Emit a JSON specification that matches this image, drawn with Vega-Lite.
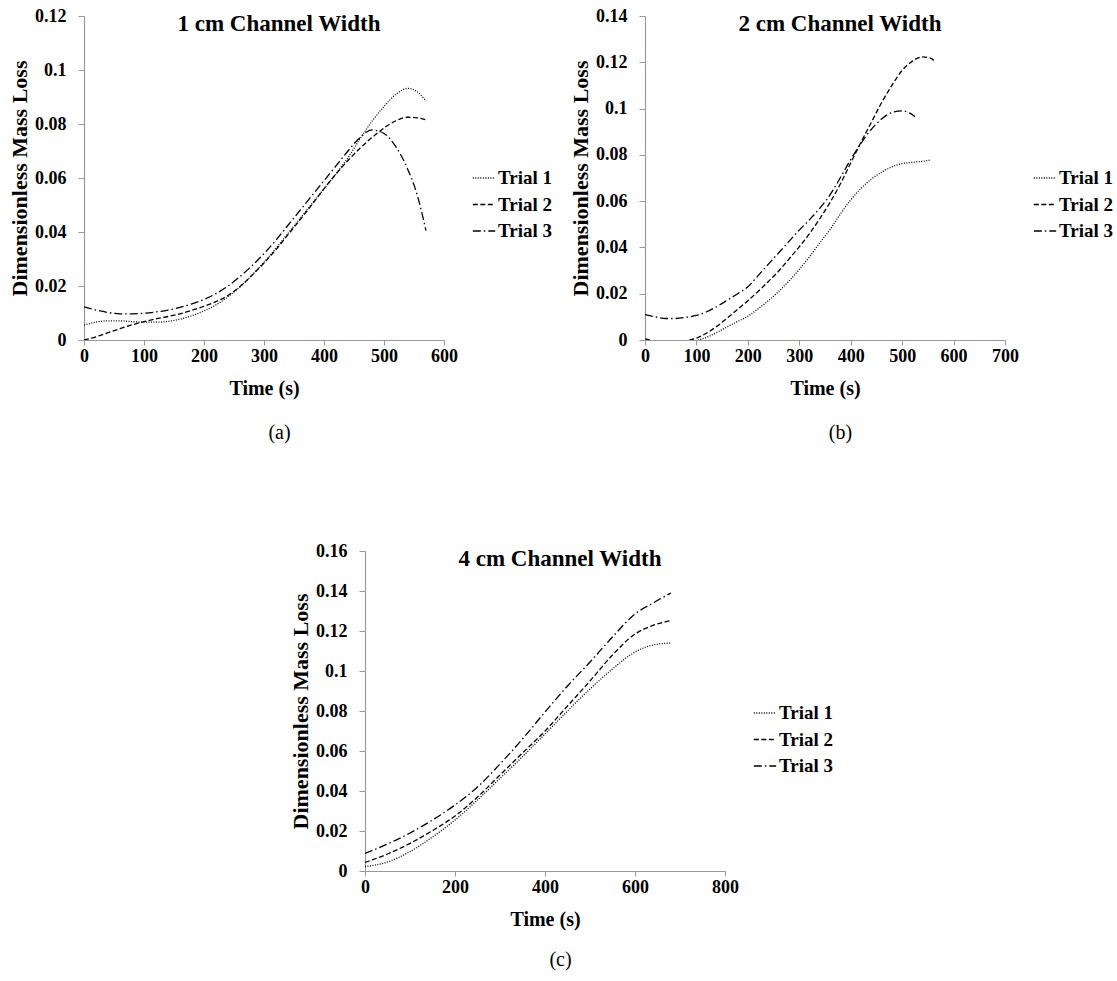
{
  "$schema": "https://vega.github.io/schema/vega-lite/v6.json",
  "background": "white",
  "padding": {"left": 8, "top": 7, "right": 5, "bottom": 5},
  "config": {
    "font": "Liberation Serif",
    "view": {"stroke": null},
    "axis": {
      "grid": false,
      "domainColor": "#999999",
      "tickColor": "#999999",
      "domainWidth": 1.2,
      "tickWidth": 1,
      "labelFont": "Liberation Serif",
      "labelFontWeight": "bold",
      "labelFontSize": 18,
      "labelColor": "black",
      "labelOverlap": false,
      "titleFont": "Liberation Serif",
      "titleFontWeight": "bold",
      "titleFontSize": 20,
      "titleColor": "black"
    },
    "axisX": {"tickSize": 5, "labelPadding": 2, "titlePadding": 13, "labelFlush": false},
    "axisY": {"tickSize": 6, "labelPadding": 12, "titlePadding": 3, "titleFontSize": 22},
    "legend": {
      "orient": "none",
      "legendX": 388,
      "legendY": 150,
      "symbolType": "stroke",
      "symbolSize": 500,
      "symbolStrokeWidth": 1.3,
      "symbolStrokeColor": "black",
      "labelFont": "Liberation Serif",
      "labelFontWeight": "bold",
      "labelFontSize": 19,
      "labelColor": "black",
      "labelOffset": 2,
      "rowPadding": 4.5,
      "padding": 0
    },
    "title": {"font": "Liberation Serif", "fontWeight": "bold", "fontSize": 23, "color": "black", "anchor": "middle", "frame": "group", "dx": 15, "baseline": "alphabetic", "offset": -29}
  },
  "datasets": {
    "a": [
      {"t": 0, "v": 0.0055, "trial": "Trial 1"}, {"t": 20, "v": 0.0066, "trial": "Trial 1"}, {"t": 40, "v": 0.0071, "trial": "Trial 1"}, {"t": 60, "v": 0.0071, "trial": "Trial 1"}, {"t": 80, "v": 0.0068, "trial": "Trial 1"}, {"t": 100, "v": 0.0066, "trial": "Trial 1"}, {"t": 120, "v": 0.0066, "trial": "Trial 1"}, {"t": 140, "v": 0.0069, "trial": "Trial 1"}, {"t": 160, "v": 0.0077, "trial": "Trial 1"}, {"t": 180, "v": 0.009, "trial": "Trial 1"}, {"t": 200, "v": 0.0108, "trial": "Trial 1"}, {"t": 220, "v": 0.013, "trial": "Trial 1"}, {"t": 240, "v": 0.016, "trial": "Trial 1"}, {"t": 260, "v": 0.0197, "trial": "Trial 1"}, {"t": 280, "v": 0.024, "trial": "Trial 1"}, {"t": 300, "v": 0.0288, "trial": "Trial 1"}, {"t": 320, "v": 0.034, "trial": "Trial 1"}, {"t": 340, "v": 0.0395, "trial": "Trial 1"}, {"t": 360, "v": 0.045, "trial": "Trial 1"}, {"t": 380, "v": 0.0505, "trial": "Trial 1"}, {"t": 400, "v": 0.056, "trial": "Trial 1"}, {"t": 420, "v": 0.0615, "trial": "Trial 1"}, {"t": 440, "v": 0.0675, "trial": "Trial 1"}, {"t": 460, "v": 0.0745, "trial": "Trial 1"}, {"t": 480, "v": 0.081, "trial": "Trial 1"}, {"t": 500, "v": 0.0865, "trial": "Trial 1"}, {"t": 520, "v": 0.091, "trial": "Trial 1"}, {"t": 540, "v": 0.0932, "trial": "Trial 1"}, {"t": 555, "v": 0.092, "trial": "Trial 1"}, {"t": 570, "v": 0.0885, "trial": "Trial 1"},
      {"t": 0, "v": 0.0, "trial": "Trial 2"}, {"t": 20, "v": 0.0012, "trial": "Trial 2"}, {"t": 40, "v": 0.0027, "trial": "Trial 2"}, {"t": 60, "v": 0.0042, "trial": "Trial 2"}, {"t": 80, "v": 0.0056, "trial": "Trial 2"}, {"t": 100, "v": 0.0068, "trial": "Trial 2"}, {"t": 120, "v": 0.0078, "trial": "Trial 2"}, {"t": 140, "v": 0.0087, "trial": "Trial 2"}, {"t": 160, "v": 0.0097, "trial": "Trial 2"}, {"t": 180, "v": 0.011, "trial": "Trial 2"}, {"t": 200, "v": 0.0125, "trial": "Trial 2"}, {"t": 220, "v": 0.0142, "trial": "Trial 2"}, {"t": 240, "v": 0.0165, "trial": "Trial 2"}, {"t": 260, "v": 0.0198, "trial": "Trial 2"}, {"t": 280, "v": 0.024, "trial": "Trial 2"}, {"t": 300, "v": 0.0285, "trial": "Trial 2"}, {"t": 320, "v": 0.0335, "trial": "Trial 2"}, {"t": 340, "v": 0.039, "trial": "Trial 2"}, {"t": 360, "v": 0.0445, "trial": "Trial 2"}, {"t": 380, "v": 0.0502, "trial": "Trial 2"}, {"t": 400, "v": 0.056, "trial": "Trial 2"}, {"t": 420, "v": 0.0615, "trial": "Trial 2"}, {"t": 440, "v": 0.0665, "trial": "Trial 2"}, {"t": 460, "v": 0.071, "trial": "Trial 2"}, {"t": 480, "v": 0.075, "trial": "Trial 2"}, {"t": 500, "v": 0.0785, "trial": "Trial 2"}, {"t": 520, "v": 0.0812, "trial": "Trial 2"}, {"t": 540, "v": 0.0825, "trial": "Trial 2"}, {"t": 555, "v": 0.0823, "trial": "Trial 2"}, {"t": 570, "v": 0.0815, "trial": "Trial 2"},
      {"t": 0, "v": 0.0123, "trial": "Trial 3"}, {"t": 20, "v": 0.0111, "trial": "Trial 3"}, {"t": 40, "v": 0.0102, "trial": "Trial 3"}, {"t": 60, "v": 0.0097, "trial": "Trial 3"}, {"t": 80, "v": 0.0097, "trial": "Trial 3"}, {"t": 100, "v": 0.0099, "trial": "Trial 3"}, {"t": 120, "v": 0.0104, "trial": "Trial 3"}, {"t": 140, "v": 0.0111, "trial": "Trial 3"}, {"t": 160, "v": 0.0121, "trial": "Trial 3"}, {"t": 180, "v": 0.0134, "trial": "Trial 3"}, {"t": 200, "v": 0.015, "trial": "Trial 3"}, {"t": 220, "v": 0.0172, "trial": "Trial 3"}, {"t": 240, "v": 0.02, "trial": "Trial 3"}, {"t": 260, "v": 0.0235, "trial": "Trial 3"}, {"t": 280, "v": 0.0275, "trial": "Trial 3"}, {"t": 300, "v": 0.032, "trial": "Trial 3"}, {"t": 320, "v": 0.037, "trial": "Trial 3"}, {"t": 340, "v": 0.0425, "trial": "Trial 3"}, {"t": 360, "v": 0.048, "trial": "Trial 3"}, {"t": 380, "v": 0.0535, "trial": "Trial 3"}, {"t": 400, "v": 0.059, "trial": "Trial 3"}, {"t": 420, "v": 0.0645, "trial": "Trial 3"}, {"t": 440, "v": 0.07, "trial": "Trial 3"}, {"t": 460, "v": 0.075, "trial": "Trial 3"}, {"t": 480, "v": 0.0778, "trial": "Trial 3"}, {"t": 500, "v": 0.0765, "trial": "Trial 3"}, {"t": 520, "v": 0.0715, "trial": "Trial 3"}, {"t": 540, "v": 0.063, "trial": "Trial 3"}, {"t": 555, "v": 0.054, "trial": "Trial 3"}, {"t": 570, "v": 0.0405, "trial": "Trial 3"}
    ],
    "b": [
      {"t": 0, "v": -0.006, "trial": "Trial 1"}, {"t": 40, "v": -0.005, "trial": "Trial 1"}, {"t": 80, "v": -0.002, "trial": "Trial 1"}, {"t": 100, "v": -0.0003, "trial": "Trial 1"}, {"t": 120, "v": 0.0012, "trial": "Trial 1"}, {"t": 140, "v": 0.0033, "trial": "Trial 1"}, {"t": 160, "v": 0.0057, "trial": "Trial 1"}, {"t": 180, "v": 0.008, "trial": "Trial 1"}, {"t": 200, "v": 0.0103, "trial": "Trial 1"}, {"t": 220, "v": 0.0135, "trial": "Trial 1"}, {"t": 240, "v": 0.017, "trial": "Trial 1"}, {"t": 260, "v": 0.021, "trial": "Trial 1"}, {"t": 280, "v": 0.0255, "trial": "Trial 1"}, {"t": 300, "v": 0.0305, "trial": "Trial 1"}, {"t": 320, "v": 0.036, "trial": "Trial 1"}, {"t": 340, "v": 0.042, "trial": "Trial 1"}, {"t": 360, "v": 0.0478, "trial": "Trial 1"}, {"t": 380, "v": 0.0545, "trial": "Trial 1"}, {"t": 400, "v": 0.0605, "trial": "Trial 1"}, {"t": 420, "v": 0.0655, "trial": "Trial 1"}, {"t": 440, "v": 0.0695, "trial": "Trial 1"}, {"t": 460, "v": 0.0725, "trial": "Trial 1"}, {"t": 480, "v": 0.0748, "trial": "Trial 1"}, {"t": 500, "v": 0.0762, "trial": "Trial 1"}, {"t": 520, "v": 0.0768, "trial": "Trial 1"}, {"t": 540, "v": 0.0772, "trial": "Trial 1"}, {"t": 555, "v": 0.0778, "trial": "Trial 1"},
      {"t": 0, "v": 0.0005, "trial": "Trial 2"}, {"t": 20, "v": -0.0005, "trial": "Trial 2"}, {"t": 40, "v": -0.0012, "trial": "Trial 2"}, {"t": 60, "v": -0.0012, "trial": "Trial 2"}, {"t": 80, "v": -0.0004, "trial": "Trial 2"}, {"t": 100, "v": 0.0008, "trial": "Trial 2"}, {"t": 120, "v": 0.003, "trial": "Trial 2"}, {"t": 140, "v": 0.006, "trial": "Trial 2"}, {"t": 160, "v": 0.0095, "trial": "Trial 2"}, {"t": 180, "v": 0.0132, "trial": "Trial 2"}, {"t": 200, "v": 0.017, "trial": "Trial 2"}, {"t": 220, "v": 0.021, "trial": "Trial 2"}, {"t": 240, "v": 0.0253, "trial": "Trial 2"}, {"t": 260, "v": 0.0298, "trial": "Trial 2"}, {"t": 280, "v": 0.035, "trial": "Trial 2"}, {"t": 300, "v": 0.0403, "trial": "Trial 2"}, {"t": 320, "v": 0.046, "trial": "Trial 2"}, {"t": 340, "v": 0.0525, "trial": "Trial 2"}, {"t": 360, "v": 0.0595, "trial": "Trial 2"}, {"t": 380, "v": 0.0675, "trial": "Trial 2"}, {"t": 400, "v": 0.0765, "trial": "Trial 2"}, {"t": 420, "v": 0.0855, "trial": "Trial 2"}, {"t": 440, "v": 0.094, "trial": "Trial 2"}, {"t": 460, "v": 0.1025, "trial": "Trial 2"}, {"t": 480, "v": 0.11, "trial": "Trial 2"}, {"t": 500, "v": 0.1165, "trial": "Trial 2"}, {"t": 520, "v": 0.1205, "trial": "Trial 2"}, {"t": 540, "v": 0.1223, "trial": "Trial 2"}, {"t": 555, "v": 0.1218, "trial": "Trial 2"}, {"t": 565, "v": 0.12, "trial": "Trial 2"},
      {"t": 0, "v": 0.011, "trial": "Trial 3"}, {"t": 20, "v": 0.01, "trial": "Trial 3"}, {"t": 40, "v": 0.0093, "trial": "Trial 3"}, {"t": 60, "v": 0.0093, "trial": "Trial 3"}, {"t": 80, "v": 0.0098, "trial": "Trial 3"}, {"t": 100, "v": 0.0106, "trial": "Trial 3"}, {"t": 120, "v": 0.0122, "trial": "Trial 3"}, {"t": 140, "v": 0.0145, "trial": "Trial 3"}, {"t": 160, "v": 0.0172, "trial": "Trial 3"}, {"t": 180, "v": 0.02, "trial": "Trial 3"}, {"t": 200, "v": 0.023, "trial": "Trial 3"}, {"t": 220, "v": 0.0278, "trial": "Trial 3"}, {"t": 240, "v": 0.0328, "trial": "Trial 3"}, {"t": 260, "v": 0.0377, "trial": "Trial 3"}, {"t": 280, "v": 0.0426, "trial": "Trial 3"}, {"t": 300, "v": 0.0475, "trial": "Trial 3"}, {"t": 320, "v": 0.052, "trial": "Trial 3"}, {"t": 340, "v": 0.057, "trial": "Trial 3"}, {"t": 360, "v": 0.0628, "trial": "Trial 3"}, {"t": 380, "v": 0.0702, "trial": "Trial 3"}, {"t": 400, "v": 0.078, "trial": "Trial 3"}, {"t": 420, "v": 0.085, "trial": "Trial 3"}, {"t": 440, "v": 0.091, "trial": "Trial 3"}, {"t": 460, "v": 0.0955, "trial": "Trial 3"}, {"t": 480, "v": 0.0983, "trial": "Trial 3"}, {"t": 500, "v": 0.099, "trial": "Trial 3"}, {"t": 515, "v": 0.098, "trial": "Trial 3"}, {"t": 525, "v": 0.0965, "trial": "Trial 3"}
    ],
    "c": [
      {"t": 0, "v": 0.0022, "trial": "Trial 1"}, {"t": 50, "v": 0.0045, "trial": "Trial 1"}, {"t": 100, "v": 0.0097, "trial": "Trial 1"}, {"t": 150, "v": 0.017, "trial": "Trial 1"}, {"t": 200, "v": 0.0255, "trial": "Trial 1"}, {"t": 250, "v": 0.0355, "trial": "Trial 1"}, {"t": 300, "v": 0.0463, "trial": "Trial 1"}, {"t": 350, "v": 0.0572, "trial": "Trial 1"}, {"t": 400, "v": 0.0685, "trial": "Trial 1"}, {"t": 450, "v": 0.08, "trial": "Trial 1"}, {"t": 500, "v": 0.091, "trial": "Trial 1"}, {"t": 550, "v": 0.101, "trial": "Trial 1"}, {"t": 600, "v": 0.1095, "trial": "Trial 1"}, {"t": 640, "v": 0.113, "trial": "Trial 1"}, {"t": 680, "v": 0.114, "trial": "Trial 1"},
      {"t": 0, "v": 0.0043, "trial": "Trial 2"}, {"t": 50, "v": 0.0085, "trial": "Trial 2"}, {"t": 100, "v": 0.0138, "trial": "Trial 2"}, {"t": 150, "v": 0.0202, "trial": "Trial 2"}, {"t": 200, "v": 0.0275, "trial": "Trial 2"}, {"t": 250, "v": 0.037, "trial": "Trial 2"}, {"t": 300, "v": 0.048, "trial": "Trial 2"}, {"t": 350, "v": 0.059, "trial": "Trial 2"}, {"t": 400, "v": 0.07, "trial": "Trial 2"}, {"t": 450, "v": 0.0825, "trial": "Trial 2"}, {"t": 500, "v": 0.095, "trial": "Trial 2"}, {"t": 550, "v": 0.108, "trial": "Trial 2"}, {"t": 600, "v": 0.1185, "trial": "Trial 2"}, {"t": 640, "v": 0.1228, "trial": "Trial 2"}, {"t": 680, "v": 0.1252, "trial": "Trial 2"},
      {"t": 0, "v": 0.0088, "trial": "Trial 3"}, {"t": 50, "v": 0.0135, "trial": "Trial 3"}, {"t": 100, "v": 0.019, "trial": "Trial 3"}, {"t": 150, "v": 0.0255, "trial": "Trial 3"}, {"t": 200, "v": 0.033, "trial": "Trial 3"}, {"t": 250, "v": 0.042, "trial": "Trial 3"}, {"t": 300, "v": 0.0535, "trial": "Trial 3"}, {"t": 350, "v": 0.066, "trial": "Trial 3"}, {"t": 400, "v": 0.0795, "trial": "Trial 3"}, {"t": 450, "v": 0.0925, "trial": "Trial 3"}, {"t": 500, "v": 0.1045, "trial": "Trial 3"}, {"t": 550, "v": 0.117, "trial": "Trial 3"}, {"t": 600, "v": 0.1285, "trial": "Trial 3"}, {"t": 640, "v": 0.134, "trial": "Trial 3"}, {"t": 680, "v": 0.139, "trial": "Trial 3"}
    ],
    "blank": [{"k": 0}]
  },
  "vconcat": [
    {
      "hconcat": [
        {
          "width": 360, "height": 324,
          "title": "1 cm Channel Width",
          "data": {"name": "a"},
          "layer": [
            {
              "mark": {"type": "line", "strokeWidth": 1.3, "color": "black", "interpolate": "monotone", "clip": true},
              "encoding": {
                "x": {"field": "t", "type": "quantitative", "title": "Time (s)", "scale": {"domain": [0, 600], "nice": false}, "axis": {"values": [0, 100, 200, 300, 400, 500, 600]}},
                "y": {"field": "v", "type": "quantitative", "title": "Dimensionless Mass Loss", "scale": {"domain": [0, 0.12], "nice": false}, "axis": {"values": [0, 0.02, 0.04, 0.06, 0.08, 0.1, 0.12], "format": ".2~f", "labelOverlap": false}},
                "strokeDash": {"field": "trial", "type": "nominal", "title": null, "scale": {"domain": ["Trial 1", "Trial 2", "Trial 3"], "range": [[1, 1.5], [5, 2.5], [8, 3, 1.5, 3]]}}
              }
            },
            {
              "mark": {"type": "point", "opacity": 0, "size": 0},
              "encoding": {
                "x": {"field": "t", "type": "quantitative", "axis": {"orient": "bottom", "offset": 82, "domain": false, "ticks": false, "labels": false, "title": "(a)", "titleFontWeight": "normal", "titleFontSize": 20, "titlePadding": 0, "titleX": 195}}
              }
            }
          ],
          "resolve": {"axis": {"x": "independent"}}
        },
        {
          "width": 360, "height": 324,
          "title": "2 cm Channel Width",
          "data": {"name": "b"},
          "layer": [
            {
              "mark": {"type": "line", "strokeWidth": 1.3, "color": "black", "interpolate": "monotone", "clip": true},
              "encoding": {
                "x": {"field": "t", "type": "quantitative", "title": "Time (s)", "scale": {"domain": [0, 700], "nice": false}, "axis": {"values": [0, 100, 200, 300, 400, 500, 600, 700]}},
                "y": {"field": "v", "type": "quantitative", "title": "Dimensionless Mass Loss", "scale": {"domain": [0, 0.14], "nice": false}, "axis": {"values": [0, 0.02, 0.04, 0.06, 0.08, 0.1, 0.12, 0.14], "format": ".2~f", "labelOverlap": false}},
                "strokeDash": {"field": "trial", "type": "nominal", "title": null, "scale": {"domain": ["Trial 1", "Trial 2", "Trial 3"], "range": [[1, 1.5], [5, 2.5], [8, 3, 1.5, 3]]}}
              }
            },
            {
              "mark": {"type": "point", "opacity": 0, "size": 0},
              "encoding": {
                "x": {"field": "t", "type": "quantitative", "axis": {"orient": "bottom", "offset": 82, "domain": false, "ticks": false, "labels": false, "title": "(b)", "titleFontWeight": "normal", "titleFontSize": 20, "titlePadding": 0, "titleX": 195}}
              }
            }
          ],
          "resolve": {"axis": {"x": "independent"}}
        }
      ],
      "spacing": 201,
      "bounds": "flush",
      "resolve": {"scale": {"strokeDash": "independent", "x": "independent", "y": "independent"}, "legend": {"strokeDash": "independent"}}
    },
    {
      "hconcat": [
        {
          "width": 80, "height": 10,
          "data": {"name": "blank"},
          "mark": {"type": "point", "opacity": 0, "size": 0}
        },
        {
          "width": 360, "height": 320,
          "title": "4 cm Channel Width",
          "data": {"name": "c"},
          "layer": [
            {
              "mark": {"type": "line", "strokeWidth": 1.3, "color": "black", "interpolate": "monotone", "clip": true},
              "encoding": {
                "x": {"field": "t", "type": "quantitative", "title": "Time (s)", "scale": {"domain": [0, 800], "nice": false}, "axis": {"values": [0, 200, 400, 600, 800]}},
                "y": {"field": "v", "type": "quantitative", "title": "Dimensionless Mass Loss", "scale": {"domain": [0, 0.16], "nice": false}, "axis": {"values": [0, 0.02, 0.04, 0.06, 0.08, 0.1, 0.12, 0.14, 0.16], "format": ".2~f", "labelOverlap": false}},
                "strokeDash": {"field": "trial", "type": "nominal", "title": null, "scale": {"domain": ["Trial 1", "Trial 2", "Trial 3"], "range": [[1, 1.5], [5, 2.5], [8, 3, 1.5, 3]]}}
              }
            },
            {
              "mark": {"type": "point", "opacity": 0, "size": 0},
              "encoding": {
                "x": {"field": "t", "type": "quantitative", "axis": {"orient": "bottom", "offset": 78, "domain": false, "ticks": false, "labels": false, "title": "(c)", "titleFontWeight": "normal", "titleFontSize": 20, "titlePadding": 0, "titleX": 195}}
              }
            }
          ],
          "resolve": {"axis": {"x": "independent"}}
        }
      ],
      "spacing": 201,
      "bounds": "flush",
      "resolve": {"scale": {"strokeDash": "independent", "x": "independent", "y": "independent"}, "legend": {"strokeDash": "independent"}}
    }
  ],
  "spacing": 535,
  "bounds": "flush",
  "resolve": {"scale": {"strokeDash": "independent", "x": "independent", "y": "independent"}, "legend": {"strokeDash": "independent"}}
}
